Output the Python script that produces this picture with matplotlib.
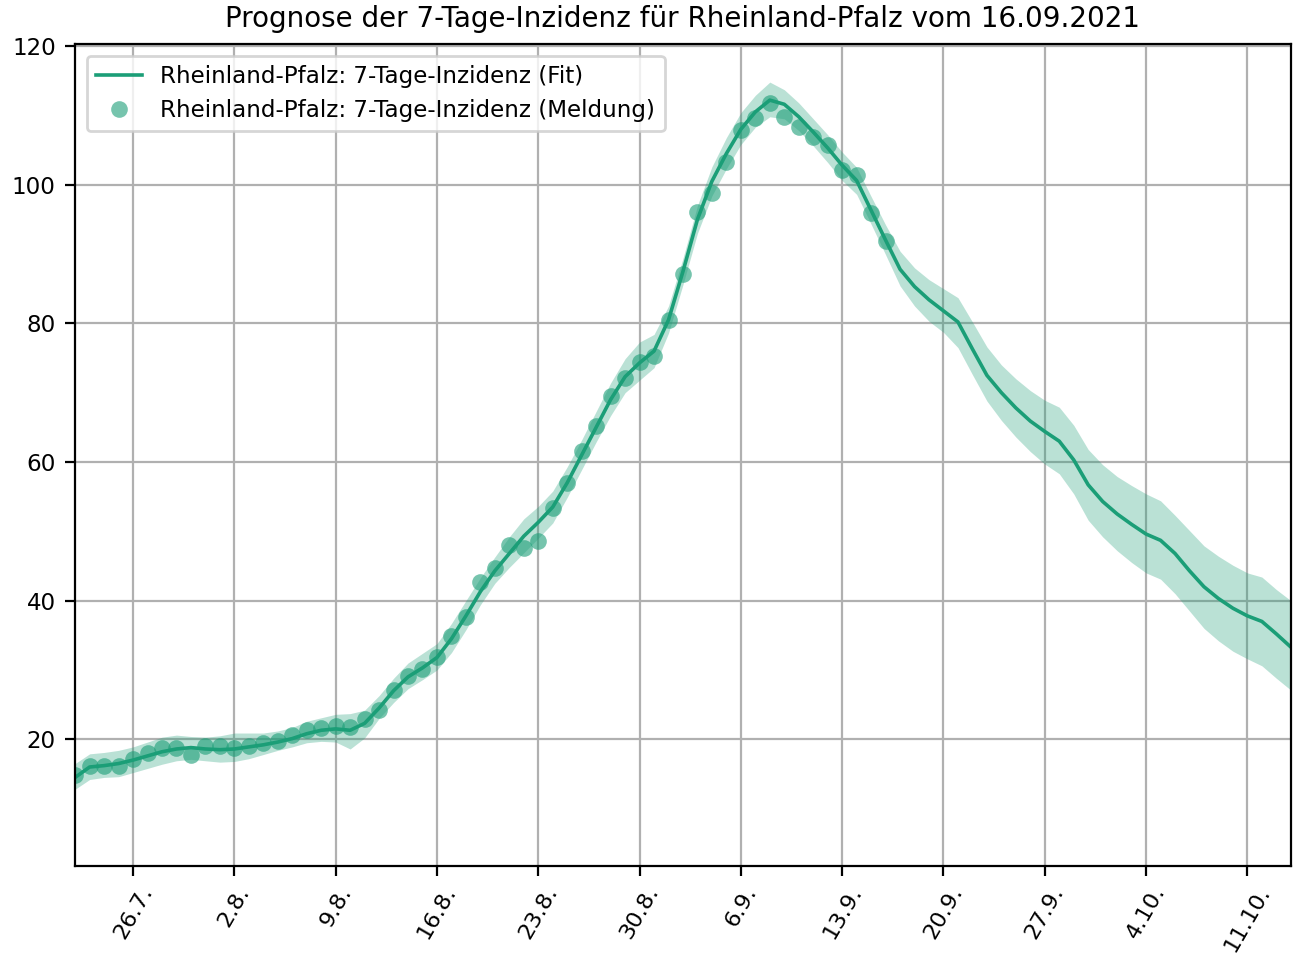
import datetime
import matplotlib
matplotlib.use("Agg")
import matplotlib.pyplot as plt
import matplotlib.dates as mdates

start = datetime.date(2021, 7, 22)

# gemeldete 7-Tage-Inzidenz (22.7. - 16.9.)
meldung = [14.8, 16.1, 16.1, 16.2, 17.1, 18.0, 18.7, 18.8, 17.8, 19.0,
           19.1, 18.7, 19.1, 19.4, 19.7, 20.6, 21.4, 21.6, 21.9, 21.7,
           22.9, 24.2, 27.1, 29.2, 30.1, 31.8, 34.9, 37.6, 42.7, 44.7,
           48.0, 47.6, 48.6, 53.3, 56.9, 61.6, 65.2, 69.5, 72.1, 74.4,
           75.3, 80.5, 87.1, 96.0, 98.8, 103.3, 107.9, 109.6, 111.8, 109.8,
           108.3, 106.9, 105.7, 102.1, 101.4, 95.9, 91.9]

# Fit + Prognose (22.7. - 14.10.)
fit = [14.5, 16.0, 16.2, 16.5, 17.0, 17.6, 18.2, 18.6, 18.8, 18.6,
       18.5, 18.6, 18.9, 19.2, 19.6, 20.1, 20.8, 21.3, 21.5, 21.3,
       22.3, 24.5, 27.0, 29.0, 30.3, 31.8, 34.5, 37.8, 41.3, 44.3,
       46.8, 49.3, 51.3, 53.5, 57.0, 61.0, 65.0, 69.0, 72.3, 74.3,
       76.0, 80.5, 87.5, 95.0, 100.5, 104.5, 108.0, 110.5, 112.2, 111.6,
       109.8, 107.6, 105.3, 102.8, 100.6, 96.3, 92.0, 87.8, 85.3, 83.4,
       81.8, 80.2, 76.3, 72.5, 70.0, 67.8, 65.9, 64.4, 63.0, 60.3,
       56.7, 54.3, 52.5, 51.0, 49.6, 48.7, 46.8, 44.3, 42.0, 40.3,
       38.9, 37.8, 37.0, 35.2, 33.3]

fit_lo = [12.8, 14.2, 14.5, 14.6, 15.2, 15.8, 16.4, 16.9, 17.1, 16.9,
          16.7, 16.8, 17.2, 17.8, 18.4, 18.9, 19.5, 19.7, 19.6, 18.6,
          20.2, 23.0, 25.3, 27.3, 28.6, 30.0, 32.5, 35.8, 39.4, 42.5,
          44.8, 46.9, 49.0, 51.2, 54.9, 58.9, 62.9, 66.7, 70.0, 71.8,
          73.6, 78.6, 85.6, 93.0, 98.4, 102.3, 105.8, 108.3, 109.8, 109.5,
          107.8, 105.6, 103.2, 100.6, 98.6, 94.3, 89.9, 85.4, 82.5, 80.3,
          78.7, 76.5, 72.6, 68.8, 66.0, 63.6, 61.5, 59.7, 58.3, 55.4,
          51.6, 49.2, 47.2, 45.5, 44.0, 43.1, 41.0, 38.5, 36.0, 34.2,
          32.7, 31.6, 30.6, 28.8, 27.1]

fit_hi = [16.5, 17.9, 18.1, 18.4, 18.9, 19.6, 20.3, 20.6, 20.4, 20.3,
          20.5, 20.9, 20.9, 20.9, 21.2, 21.7, 22.6, 23.1, 23.6, 23.7,
          24.2, 26.3, 28.8, 31.0, 32.4, 33.8, 36.7, 40.0, 43.3, 46.3,
          49.2, 51.8, 53.6, 55.8, 59.3, 63.2, 67.3, 71.4, 74.9, 77.3,
          78.4, 82.5, 89.4, 97.0, 102.6, 106.8, 110.4, 112.9, 114.8, 113.7,
          111.8, 109.5, 107.2, 104.7, 102.5, 98.3, 94.2, 90.4, 88.0, 86.3,
          85.0, 83.7, 80.2, 76.6, 74.0, 72.0, 70.3, 68.9, 67.9, 65.3,
          61.8, 59.6, 57.9, 56.6, 55.4, 54.4, 52.3, 50.1, 47.9, 46.4,
          45.1, 44.0, 43.4, 41.6, 40.0]

days_fit = [start + datetime.timedelta(days=i) for i in range(len(fit))]
days_meld = days_fit[:len(meldung)]

color = "#1b9e77"
plt.rcParams["font.size"] = 8.3

fig, ax = plt.subplots(figsize=(6.48, 4.78), dpi=200)
fig.subplots_adjust(left=0.058, right=0.996, top=0.954, bottom=0.094)

ax.fill_between(days_fit, fit_lo, fit_hi, color=color, alpha=0.3, linewidth=0)
ax.plot(days_fit, fit, color=color, linewidth=1.3,
        label="Rheinland-Pfalz: 7-Tage-Inzidenz (Fit)")
ax.plot(days_meld, meldung, "o", color=color, alpha=0.6, markersize=6,
        markeredgewidth=0, label="Rheinland-Pfalz: 7-Tage-Inzidenz (Meldung)")

ax.set_xlim(days_fit[0], days_fit[-1])
ax.set_ylim(1.7, 120.3)
ax.set_yticks([20, 40, 60, 80, 100, 120])

ax.xaxis.set_major_locator(mdates.WeekdayLocator(byweekday=mdates.MO))
ax.xaxis.set_major_formatter(
    plt.FuncFormatter(lambda x, pos: "%d.%d." % (mdates.num2date(x).day, mdates.num2date(x).month)))
ax.tick_params(axis="x", pad=2.5, labelsize=8.1)
plt.setp(ax.get_xticklabels(), rotation=60)

ax.grid(True, color="#b0b0b0", linewidth=0.8)
ax.set_axisbelow(True)
ax.legend(loc="upper left")
ax.set_title("Prognose der 7-Tage-Inzidenz für Rheinland-Pfalz vom 16.09.2021", fontsize=10)

plt.savefig("out.png")
